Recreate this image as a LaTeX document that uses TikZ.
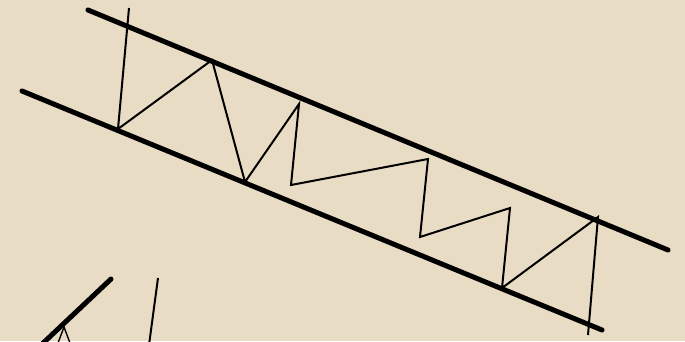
\documentclass[tikz,border=0pt]{standalone}
\definecolor{bg}{RGB}{233,220,196}
\tikzset{
  rail/.style={line width=5pt, line cap=round, black},
  web/.style={line width=2pt, black, line join=miter},
}
\begin{document}
\begin{tikzpicture}[x=1pt,y=-1pt]
\fill[bg] (0,0) rectangle (685,341);
\useasboundingbox (0,0) rectangle (685,341);
% rails
\coordinate (t0) at (88,10);
\coordinate (t1) at (668,250);
\coordinate (b0) at (22,91);
\coordinate (b1) at (602,330);
\draw[rail] (t0) -- (t1);
\draw[rail] (b0) -- (b1);
% zigzag web
\coordinate (p0) at (129,8);
\coordinate (p1) at (118,129);
\coordinate (p2) at (212,60);
\coordinate (p3) at (245,182);
\coordinate (p4) at (299,104);
\coordinate (p5) at (291,185);
\coordinate (p6) at (428,159);
\coordinate (p7) at (420,237);
\coordinate (p8) at (510,208);
\coordinate (p9) at (502,288);
\coordinate (p10) at (598,217);
\coordinate (p11) at (588,335);
\draw[web] (p0) -- (p1) -- (p2) -- (p3) -- (p4) -- (p5) -- (p6) -- (p7) -- (p8) -- (p9) -- (p10) -- (p11);
% lower-left fragment
\coordinate (s0) at (111,279);
\coordinate (s1) at (40,346);
\draw[rail] (s0) -- (s1);
\coordinate (v0) at (158,278);
\coordinate (v1) at (149,345);
\draw[web] (v0) -- (v1);
\coordinate (w0) at (64,327);
\coordinate (w1) at (58,343);
\coordinate (w2) at (70,343);
\draw[web, line width=1.4pt] (w1) -- (w0) -- (w2);
\end{tikzpicture}
\end{document}
